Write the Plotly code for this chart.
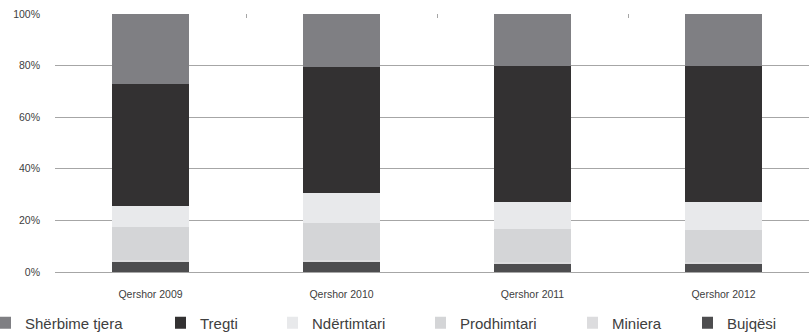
import plotly.graph_objects as go

# Loan structure by economic sector, share of total (%)
periods = ["Qershor 2009", "Qershor 2010", "Qershor 2011", "Qershor 2012"]

bujqesi = [4.2, 4.2, 3.4, 3.4]
miniera = [0.4, 0.4, 0.3, 0.3]
prodhimtari = [12.9, 14.4, 12.9, 12.6]
ndertimtari = [8.2, 11.5, 10.6, 10.9]
tregti = [47.1, 49.0, 52.8, 52.8]
sherbime_tjera = [27.2, 20.5, 20.0, 20.0]

y_ticks = [0, 20, 40, 60, 80, 100]
y_tick_labels = [f"{v}%" for v in y_ticks]

# stacking order from the bottom up, with colour and legend text position (px)
series = [
    ("Bujqësi", bujqesi, "#4d4d4f", 727),
    ("Miniera", miniera, "#dcdcde", 612),
    ("Prodhimtari", prodhimtari, "#d4d5d7", 460),
    ("Ndërtimtari", ndertimtari, "#e8e9eb", 312),
    ("Tregti", tregti, "#333132", 200),
    ("Shërbime tjera", sherbime_tjera, "#7f7f83", 24),
]

W, H = 809, 336
FONT = "Liberation Sans, Arial, sans-serif"

fig = go.Figure()
legends = {}
for i, (name, vals, color, text_x) in enumerate(series):
    lname = "legend" if i == 0 else f"legend{i + 1}"
    fig.add_trace(go.Bar(
        x=periods, y=vals, name=name, marker_color=color,
        marker_line_width=0, width=0.4, legend=lname,
    ))
    legends[lname] = dict(
        xref="container", yref="container",
        x=max(text_x - 25, 0) / W, y=1 - 323 / H,
        xanchor="left", yanchor="middle",
        orientation="h", bgcolor="rgba(0,0,0,0)",
        indentation=-15,
        font=dict(family=FONT, size=15, color="#404040"),
        itemclick=False, itemdoubleclick=False,
    )

# shift the right edge so the last category runs slightly past the frame
n = len(periods)
right_cut = 10 / 191

fig.update_layout(
    barmode="stack",
    width=W, height=H,
    margin=dict(l=55, r=0, t=14, b=64),
    plot_bgcolor="white", paper_bgcolor="white",
    showlegend=True,
    font=dict(family=FONT, size=10, color="#595959"),
    xaxis=dict(
        type="category",
        range=[-0.5, n - 0.5 - right_cut],
        showgrid=False, showline=True, linecolor="#a6a6a6", linewidth=1,
        ticks="", ticklabelstandoff=12,
        tickfont=dict(family=FONT, size=10.5, color="#404040"),
    ),
    xaxis2=dict(
        type="category", overlaying="x", matches="x", side="top",
        showticklabels=False, showgrid=False, showline=False,
        ticks="inside", tickson="boundaries", ticklen=4,
        tickcolor="#a6a6a6",
    ),
    yaxis=dict(
        range=[0, 100], tickvals=y_ticks, ticktext=y_tick_labels,
        showgrid=True, gridcolor="#a6a6a6", gridwidth=1,
        zeroline=False, showline=False, ticks="",
        ticklabelstandoff=14,
        tickfont=dict(family=FONT, size=10.5, color="#404040"),
    ),
    **legends,
)

# invisible trace to carry the top boundary ticks
fig.add_trace(go.Scatter(x=periods, y=[None] * n, xaxis="x2",
                         showlegend=False, hoverinfo="skip"))

fig.write_html("out.html")
